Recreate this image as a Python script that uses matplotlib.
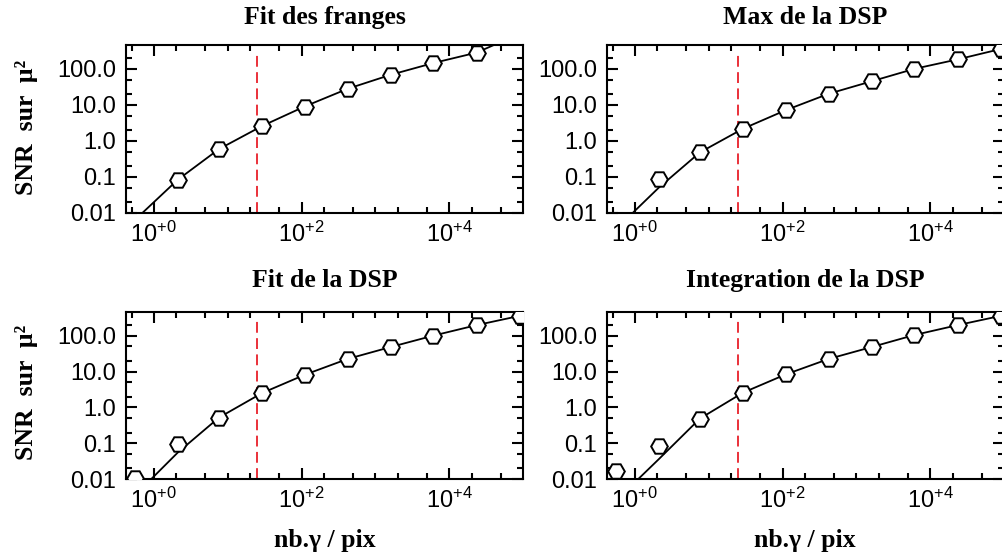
import numpy as np
import matplotlib
matplotlib.use("Agg")
import matplotlib.pyplot as plt
from matplotlib.ticker import FixedLocator, FixedFormatter, NullFormatter

nan = np.nan

# photons per pixel of each simulated point
nb_photons = [0.55, 2.1, 7.6, 29, 110, 420, 1600, 6100, 23500, 90000]

titles = ["Fit des franges", "Max de la DSP", "Fit de la DSP", "Integration de la DSP"]

# measured SNR (markers)
snr_franges = [nan, 0.083, 0.59, 2.57, 9.0, 27.9, 68, 145, 282, nan]
snr_max = [nan, 0.089, 0.48, 2.17, 7.1, 20.3, 45, 100, 183, 355]
snr_fit = [0.0112, 0.095, 0.52, 2.5, 8.1, 22.4, 48, 100, 196, 355]
snr_integ = [0.017, 0.083, 0.49, 2.57, 8.3, 22.4, 48, 104, 196, 355]

# theoretical SNR (solid line)
model_franges = [0.0063, 0.083, 0.59, 2.57, 9.0, 27.9, 68, 145, 282, 950]
model_max = [0.0035, 0.05, 0.48, 2.17, 7.1, 20.3, 45, 100, 183, 355]
model_fit = [0.0035, 0.055, 0.52, 2.5, 8.1, 22.4, 48, 100, 196, 355]
model_integ = [0.0025, 0.036, 0.49, 2.57, 8.3, 22.4, 48, 104, 196, 355]

threshold = 25  # nb photons / pix, red dashed line

x_major = [1, 100, 1e4]
x_major_labels = [r"$10^{+0}$", r"$10^{+2}$", r"$10^{+4}$"]
x_minor = [0.5, 2, 5, 10, 20, 50, 200, 500, 1e3, 2e3, 5e3, 2e4, 5e4]
y_major = [0.01, 0.1, 1, 10, 100]
y_major_labels = ["0.01", "0.1", "1.0", "10.0", "100.0"]
y_minor = [0.02, 0.05, 0.2, 0.5, 2, 5, 20, 50, 200]

plt.rcParams["font.family"] = ["Liberation Sans", "DejaVu Sans"]
plt.rcParams["mathtext.default"] = "regular"

SERIF = dict(family=["Liberation Serif", "DejaVu Serif"], weight="bold", size=18.5)


def draw(ax, title, snr, model, title_pad):
    ax.set_xscale("log")
    ax.set_yscale("log")
    ax.plot(nb_photons, model, color="black", lw=1.3, zorder=2)
    ax.axvline(threshold, ymax=0.96, color="#e8202a", lw=1.3, dashes=(6, 3), zorder=1)
    ax.plot(nb_photons, snr, linestyle="none", marker="H", markersize=12,
            markerfacecolor="white", markeredgecolor="black", markeredgewidth=1.4, zorder=3)
    ax.set_xlim(0.42, 1e5)
    ax.set_ylim(0.01, 450)

    ax.xaxis.set_major_locator(FixedLocator(x_major))
    ax.xaxis.set_major_formatter(FixedFormatter(x_major_labels))
    ax.xaxis.set_minor_locator(FixedLocator(x_minor))
    ax.xaxis.set_minor_formatter(NullFormatter())
    ax.yaxis.set_major_locator(FixedLocator(y_major))
    ax.yaxis.set_major_formatter(FixedFormatter(y_major_labels))
    ax.yaxis.set_minor_locator(FixedLocator(y_minor))
    ax.yaxis.set_minor_formatter(NullFormatter())

    ax.tick_params(which="both", direction="in", top=True, right=True, width=1.5,
                   labelsize=17)
    ax.tick_params(which="major", length=8)
    ax.tick_params(which="minor", length=4.5)
    ax.tick_params(axis="y", pad=7)
    ax.tick_params(axis="x", pad=6)
    for s in ax.spines.values():
        s.set_linewidth(1.5)
    ax.set_title(title, pad=title_pad, **SERIF)


def main() -> None:
    fig = plt.figure(figsize=(10.03, 5.59), dpi=100)
    w, h = 0.396, 0.300
    rects = [
        (0.1256, 0.619, w, h),
        (0.6052, 0.619, w, h),
        (0.1256, 0.1426, w, h - 0.001),
        (0.6052, 0.1426, w, h - 0.001),
    ]
    series = [(snr_franges, model_franges), (snr_max, model_max),
              (snr_fit, model_fit), (snr_integ, model_integ)]
    pads = [15, 15, 18, 18]
    for rect, title, (snr, model), pad in zip(rects, titles, series, pads):
        ax = fig.add_axes(rect)
        draw(ax, title, snr, model, pad)

    for yc in (0.772, 0.298):
        fig.text(33 / 1003, yc, "SNR  sur  μ²", rotation=90, rotation_mode="anchor",
                 ha="center", va="baseline", **SERIF)
    for xc in (324.5 / 1003, 805 / 1003):
        fig.text(xc, 12 / 559, "nb.γ / pix", ha="center", va="baseline", **SERIF)

    fig.savefig("out.png", dpi=100)
    plt.close(fig)


if __name__ == "__main__":
    main()
